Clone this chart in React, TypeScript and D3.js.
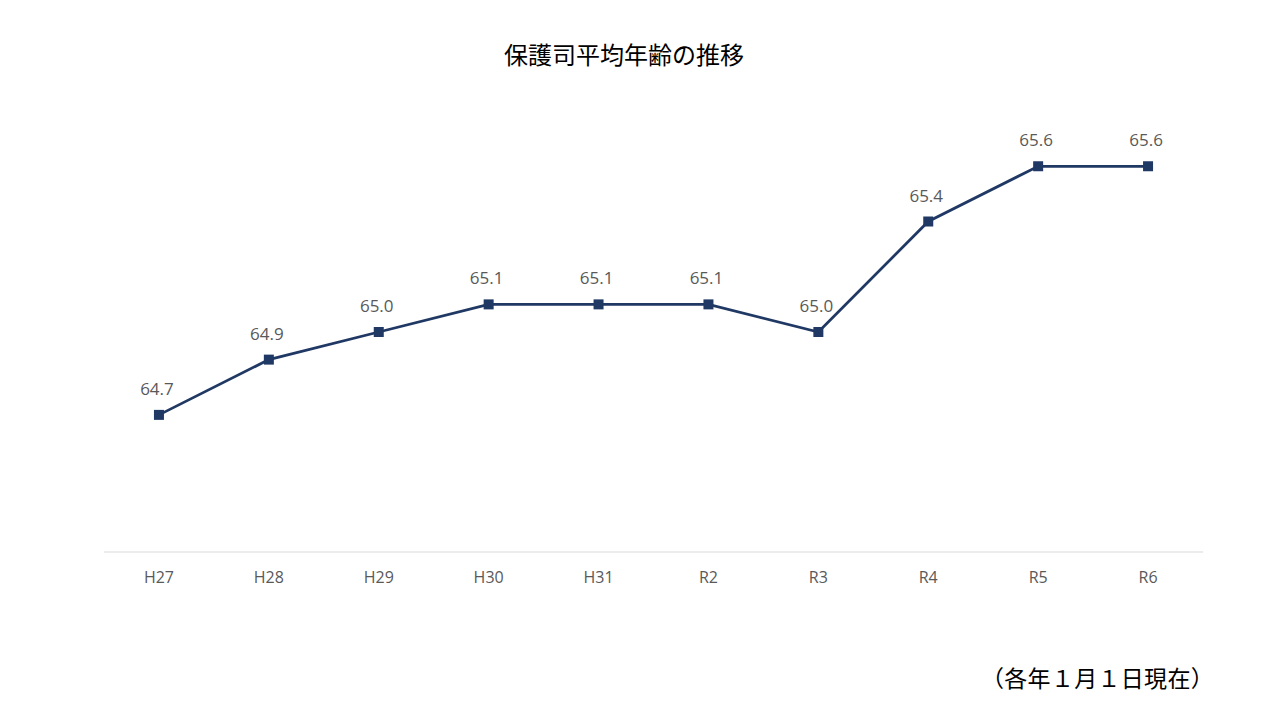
import React from "react";
import * as d3 from "d3";

const categories = ["H27", "H28", "H29", "H30", "H31", "R2", "R3", "R4", "R5", "R6"];
const values = [64.7, 64.9, 65.0, 65.1, 65.1, 65.1, 65.0, 65.4, 65.6, 65.6];
const title = "保護司平均年齢の推移";
const note = "（各年１月１日現在）";

const W = 1280;
const H = 720;
const plot = { left: 104, right: 1203, top: 111, bottom: 553 };

export default function App() {
  const x = d3.scaleBand<string>().domain(categories).range([plot.left, plot.right]);
  const y = d3.scaleLinear().domain([64.2, 65.8]).range([plot.bottom, plot.top]);
  const cx = (c: string) => (x(c) ?? 0) + x.bandwidth() / 2;
  const line = d3
    .line<number>()
    .x((_, i) => cx(categories[i]))
    .y((d) => y(d));
  const font = "'Noto Sans CJK JP', 'Noto Sans', sans-serif";
  return (
    <svg
      width={W}
      height={H}
      style={{ position: "absolute", left: 0, top: 0, background: "#fff" }}
    >
      <rect width={W} height={H} fill="#fff" />
      <text x={624} y={64} textAnchor="middle" fontFamily={font} fontSize={24} fill="#000">
        {title}
      </text>
      <line x1={plot.left} x2={plot.right} y1={552} y2={552} stroke="#d9d9d9" strokeWidth={1} />
      {categories.map((c) => (
        <text key={c} x={cx(c)} y={583} textAnchor="middle" fontFamily="'Open Sans', sans-serif" fontSize={16} fill="#595959">
          {c}
        </text>
      ))}
      <path d={line(values) ?? ""} fill="none" stroke="#203864" strokeWidth={2.75} />
      {values.map((v, i) => (
        <rect key={i} x={cx(categories[i]) - 5} y={y(v) - 5} width={10} height={10} fill="#203864" />
      ))}
      {values.map((v, i) => (
        <text key={"l" + i} x={cx(categories[i]) - 2} y={y(v) - 20} textAnchor="middle" fontFamily="'Open Sans', sans-serif" fontSize={17} fill="#595959">
          {v.toFixed(1)}
        </text>
      ))}
      <text x={1214} y={687} textAnchor="end" fontFamily={font} fontSize={23} letterSpacing={0.3} fill="#000">
        {note}
      </text>
    </svg>
  );
}
